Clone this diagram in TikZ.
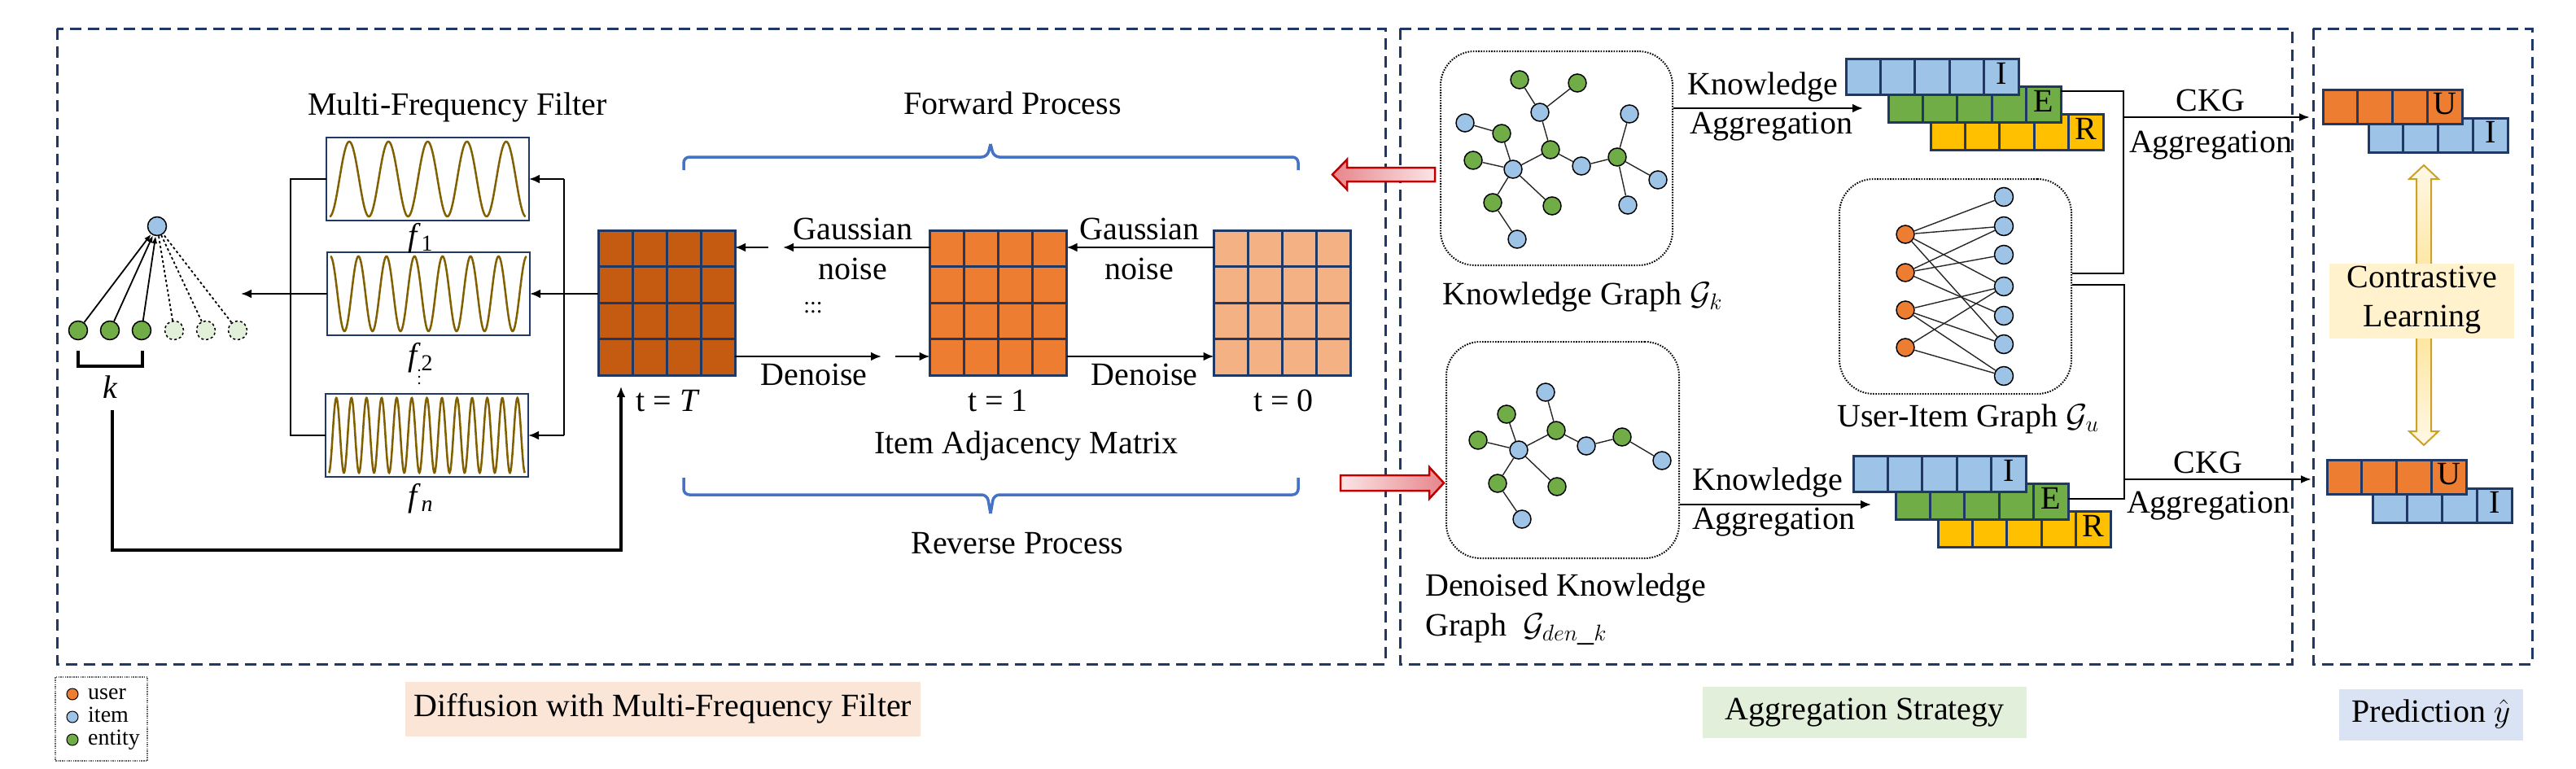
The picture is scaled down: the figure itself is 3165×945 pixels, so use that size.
\RequirePackage{fix-cm}
\documentclass[tikz,border=0pt]{standalone}
\usepackage{fontspec}
\setmainfont{Liberation Serif}
\usetikzlibrary{arrows.meta,calc}

\definecolor{navy}{HTML}{203864}
\definecolor{bluebr}{HTML}{4472C4}
\definecolor{itemblue}{HTML}{9DC3E6}
\definecolor{entgreen}{HTML}{70AD47}
\definecolor{entlight}{HTML}{E2F0D9}
\definecolor{userorange}{HTML}{ED7D31}
\definecolor{relyellow}{HTML}{FFC000}
\definecolor{matdark}{HTML}{C55A11}
\definecolor{matmid}{HTML}{ED7D31}
\definecolor{matlight}{HTML}{F4B183}
\definecolor{wavecol}{HTML}{806000}
\definecolor{redborder}{HTML}{C00000}
\definecolor{redtip}{HTML}{E6858B}
\definecolor{redtail}{HTML}{FBE5E6}
\definecolor{goldline}{HTML}{C9A227}
\definecolor{goldmid}{HTML}{FFE08C}
\definecolor{goldend}{HTML}{FFF8E6}
\definecolor{bgpink}{HTML}{FBE5D6}
\definecolor{bggreen}{HTML}{E2EFDA}
\definecolor{bgyellow}{HTML}{FFF2CC}
\definecolor{bgblue}{HTML}{DAE3F3}

\newcommand{\gridmat}[4]{%
  \node[matbox, fill=#4] (#1) at (#2,#3) {};
  \foreach \f in {0.25,0.5,0.75}{%
    \draw[gridline] ($(#1.north west)!\f!(#1.north east)$) -- ($(#1.south west)!\f!(#1.south east)$);
    \draw[gridline] ($(#1.north west)!\f!(#1.south west)$) -- ($(#1.north east)!\f!(#1.south east)$);
  }%
}
\newcommand{\vecrow}[7]{%
  \node[cellrow, fill=#5, minimum width=#4pt, minimum height=#7pt, anchor=north west] (#1) at (#2,#3) {};
  \foreach \f in {#6}{%
    \draw[gridline] ($(#1.north west)!\f!(#1.north east)$) -- ($(#1.south west)!\f!(#1.south east)$);
  }%
}

\begin{document}
\begin{tikzpicture}[x=1pt,y=-1pt,
  lbl/.style={inner sep=0pt, font=\fontsize{40}{46}\selectfont, text height=27pt, text depth=9pt},
  smalllbl/.style={inner sep=0pt, font=\fontsize{28}{32}\selectfont, text height=19pt, text depth=6pt},
  frame/.style={draw=navy, line width=3pt, dash pattern=on 14pt off 8pt},
  matbox/.style={rectangle, draw=navy, line width=3pt, minimum width=168pt, minimum height=178pt, inner sep=0pt, outer sep=0pt},
  gridline/.style={draw=navy, line width=3pt},
  cellrow/.style={rectangle, draw=navy, line width=3pt, inner sep=0pt, outer sep=0pt},
  filterbox/.style={rectangle, draw=navy, line width=2.5pt, minimum width=249pt, minimum height=102pt, inner sep=0pt, outer sep=0pt},
  wave/.style={draw=wavecol, line width=2.5pt},
  arr/.style={-{Latex[length=13pt,width=11pt]}, line width=2.5pt},
  conn/.style={line width=2.5pt},
  brace/.style={draw=bluebr, line width=3.5pt, rounded corners=7pt},
  gbox/.style={rectangle, draw=black, line width=2pt, dash pattern=on 1.6pt off 1.6pt, rounded corners=42pt, inner sep=0pt},
  nd/.style={circle, draw=black, line width=1.5pt, minimum size=22pt, inner sep=0pt},
  ent/.style={nd, fill=entgreen},
  itm/.style={nd, fill=itemblue},
  usr/.style={nd, fill=userorange},
  entd/.style={nd, fill=entlight, dashed},
  edge/.style={line width=1.4pt, draw=black!85},
  lg/.style={circle, draw=black, line width=1pt, minimum size=14pt, inner sep=0pt}
]
\useasboundingbox (0,0) rectangle (3165,945);

% ---------------- frames ----------------
\draw[frame] (70,35) rectangle (1702,816);
\draw[frame] (1720,35) rectangle (2816,816);
\draw[frame] (2842,35) rectangle (3111,816);

% ---------------- filters ----------------
\node[lbl] (mff) at (562,132) {Multi-Frequency Filter};
\node[filterbox] (F1) at (525.5,220) {};
\node[filterbox] (F2) at (526.5,361) {};
\node[filterbox] (Fn) at (524.5,535) {};
\draw[wave] plot[domain=0:1, samples=300] ({405+241*\x},{220+46*cos(1800*\x)});
\draw[wave] plot[domain=0:1, samples=300] ({406+241*\x},{361-46*cos(2520*\x)});
\draw[wave] plot[domain=0:1, samples=500] ({404+241*\x},{535+46*cos(4680*\x)});
\node[lbl] (lf1) at (517,293) {\textit{f}\textsubscript{1}};
\node[lbl] (lf2) at (517,440) {\textit{f}\textsubscript{2}};
\node[lbl] (lfn) at (517,613) {\textit{f}\textsubscript{\textit{n}}};
\foreach \yy in {455,463,471} \fill (515,\yy) circle (1.3pt);

\coordinate (Lt) at (357,220);
\coordinate (Lb) at (357,535);
\coordinate (Rt) at (693,220);
\coordinate (Rb) at (693,535);
\draw[conn] (F1.west) -- (Lt) -- (Lb) -- (Fn.west);
\draw[conn] (Rt) -- (Rb);
\draw[arr] (Rt) -- (F1.east);
\draw[arr] (Rb) -- (Fn.east);

% item / entities
\node[itm, minimum size=23pt] (it) at (193,278) {};
\node[ent, minimum size=23pt] (e1) at (96,406) {};
\node[ent, minimum size=23pt] (e2) at (135,406) {};
\node[ent, minimum size=23pt] (e3) at (174,406) {};
\node[entd, minimum size=23pt] (d1) at (214,406) {};
\node[entd, minimum size=23pt] (d2) at (253,406) {};
\node[entd, minimum size=23pt] (d3) at (292,406) {};
\foreach \n in {e1,e2,e3} \draw[-{Latex[length=9pt,width=7pt]}, line width=1.8pt] (\n) -- (it);
\foreach \n in {d1,d2,d3} \draw[dashed, line width=1.8pt] (\n) -- (it);
\coordinate (outL) at (296,361);
\draw[arr] (F2.west) -- (outL);
\draw[line width=4pt] (96,431) -- (96,450) -- (175,450) -- (175,431);
\node[lbl] (kl) at (136,480) {\textit{k}};

% ---------------- matrices ----------------
\gridmat{mT}{819}{372}{matdark}
\gridmat{m1}{1226.5}{372}{matmid}
\gridmat{m0}{1575.5}{372}{matlight}
\draw[arr] (mT.west |- F2.east) -- (F2.east);
\node[lbl] (ltT) at (821,496) {t = \textit{T}};
\node[lbl] (lt1) at (1226,496) {t = 1};
\node[lbl] (lt0) at (1577,496) {t = 0};
\node[lbl] (iam) at (1261,548) {Item Adjacency Matrix};

\coordinate (gA) at (962,304);
\coordinate (gB) at (944,304);
\coordinate (dA) at (1083,438);
\coordinate (dB) at (1100,438);
\draw[arr] (m1.west |- gA) -- (gA);
\draw[arr] (gB) -- (mT.east |- gB);
\draw[arr] (m0.west |- gA) -- (m1.east |- gA);
\draw[arr] (mT.east |- dA) -- (dA);
\draw[arr] (dB) -- (m1.west |- dB);
\draw[arr] (m1.east |- dA) -- (m0.west |- dA);
\node[lbl] (ga1) at (1048,285) {Gaussian};
\node[lbl] (no1) at (1048,334) {noise};
\node[lbl] (ga2) at (1400,285) {Gaussian};
\node[lbl] (no2) at (1400,334) {noise};
\node[smalllbl] (dts) at (999,378) {:::};
\node[lbl] (de1) at (1000,464) {Denoise};
\node[lbl] (de2) at (1406,464) {Denoise};

% feedback from k to t=T
\coordinate (kb) at (138,504);
\coordinate (kc) at (138,676);
\coordinate (kd) at (763,676);
\coordinate (ke) at (763,475);
\draw[-{Latex[length=13pt,width=11pt]}, line width=4pt] (kb) -- (kc) -- (kd) -- (ke);

% braces
\draw[brace] (840,209) -- (840,193) -- (1213,193) -- (1217,177);
\draw[brace] (1217,177) -- (1221,193) -- (1595,193) -- (1595,209);
\draw[brace] (840,587) -- (840,608) -- (1213,608) -- (1217,631);
\draw[brace] (1217,631) -- (1221,608) -- (1595,608) -- (1595,587);
\node[lbl] (fwd) at (1244,131) {Forward Process};
\node[lbl] (rev) at (1250,671) {Reverse Process};

% red block arrows
\shadedraw[left color=redtip, right color=redtail, draw=redborder, line width=2.5pt]
  (1637,214.5) -- (1655,196) -- (1655,206) -- (1763,206) -- (1763,223) -- (1655,223) -- (1655,233) -- cycle;
\shadedraw[left color=redtail, right color=redtip, draw=redborder, line width=2.5pt]
  (1647,584) -- (1756,584) -- (1756,574) -- (1774,593.5) -- (1756,613) -- (1756,603) -- (1647,603) -- cycle;

% ---------------- knowledge graph ----------------
\node[gbox, minimum width=285pt, minimum height=263pt] (kgbox) at (1912.5,194.5) {};
\node[ent] (a1) at (1867,98) {};
\node[ent] (a2) at (1938,102) {};
\node[itm] (b1) at (1892,138) {};
\node[itm] (b2) at (1800,151) {};
\node[ent] (a3) at (1845,164) {};
\node[itm] (b3) at (2002,140) {};
\node[ent] (a4) at (1905,184) {};
\node[ent] (a5) at (1810,197) {};
\node[itm] (b4) at (1859,208) {};
\node[itm] (b5) at (1943,204) {};
\node[ent] (a6) at (1987,193) {};
\node[itm] (b6) at (2037,221) {};
\node[ent] (a7) at (1834,249) {};
\node[ent] (a8) at (1907,253) {};
\node[itm] (b7) at (2000,252) {};
\node[itm] (b8) at (1864,294) {};
\foreach \u/\v in {a1/b1,a2/b1,b1/a4,b2/a3,a3/b4,a5/b4,b4/a4,a4/b5,b5/a6,a6/b3,a6/b6,a6/b7,b4/a7,b4/a8,a7/b8}
  \draw[edge] (\u) -- (\v);
\node[lbl, anchor=west] (kgl) at (1772,365) {Knowledge Graph $\mathcal{G}_{k}$};

% denoised graph
\node[gbox, minimum width=286pt, minimum height=266pt] (dkbox) at (1920,553) {};
\node[itm] (p1) at (1899,482) {};
\node[ent] (q1) at (1851,509) {};
\node[ent] (q2) at (1912,529) {};
\node[ent] (q3) at (1816,541) {};
\node[itm] (p2) at (1866,553) {};
\node[itm] (p3) at (1949,548) {};
\node[ent] (q4) at (1993,537) {};
\node[itm] (p4) at (2042,566) {};
\node[ent] (q5) at (1840,594) {};
\node[ent] (q6) at (1913,598) {};
\node[itm] (p5) at (1870,638) {};
\foreach \u/\v in {p1/q2,q1/p2,q3/p2,p2/q2,q2/p3,p3/q4,q4/p4,p2/q5,p2/q6,q5/p5}
  \draw[edge] (\u) -- (\v);
\node[lbl, anchor=west] (dkl1) at (1751,723) {Denoised Knowledge};
\node[lbl, anchor=west] (dkl2) at (1751,772) {Graph\ \ $\mathcal{G}_{den\_k}$};

% user-item graph
\node[gbox, minimum width=285pt, minimum height=264pt] (uibox) at (2402.5,352) {};
\node[usr] (u1) at (2341,288) {};
\node[usr] (u2) at (2341,335) {};
\node[usr] (u3) at (2341,381) {};
\node[usr] (u4) at (2341,427) {};
\node[itm, minimum size=23pt] (i1) at (2462,242) {};
\node[itm, minimum size=23pt] (i2) at (2462,278) {};
\node[itm, minimum size=23pt] (i3) at (2462,313) {};
\node[itm, minimum size=23pt] (i4) at (2462,352) {};
\node[itm, minimum size=23pt] (i5) at (2462,388) {};
\node[itm, minimum size=23pt] (i6) at (2462,423) {};
\node[itm, minimum size=23pt] (i7) at (2462,462) {};
\foreach \u/\v in {u1/i1,u1/i2,u1/i4,u1/i6,u2/i2,u2/i3,u2/i5,u3/i4,u3/i6,u3/i7,u4/i4,u4/i7}
  \draw[edge] (\u) -- (\v);
\node[lbl] (uil) at (2418,515) {User-Item Graph $\mathcal{G}_{u}$};

% top aggregation
\node[lbl] (kn1) at (2166,107) {Knowledge};
\node[lbl] (ag1) at (2176,155) {Aggregation};
\coordinate (ka1) at (2289,133);
\draw[arr] (kgbox.east |- ka1) -- (ka1);
\vecrow{rR1}{2372}{140}{212}{relyellow}{0.2,0.4,0.6,0.8}{44}
\vecrow{rE1}{2320}{106}{212}{entgreen}{0.2,0.4,0.6,0.8}{44}
\vecrow{rI1}{2268}{72}{212}{itemblue}{0.2,0.4,0.6,0.8}{44}
\node[lbl] (tI1) at ($(rI1.east)+(-21,0)$) {I};
\node[lbl] (tE1) at ($(rE1.east)+(-21,0)$) {E};
\node[lbl] (tR1) at ($(rR1.east)+(-21,0)$) {R};

% bottom aggregation
\node[lbl] (kn2) at (2172,593) {Knowledge};
\node[lbl] (ag2) at (2179,641) {Aggregation};
\coordinate (ka2) at (2299,620);
\draw[arr] (dkbox.east |- ka2) -- (ka2);
\vecrow{rR2}{2381}{628}{212}{relyellow}{0.2,0.4,0.6,0.8}{44}
\vecrow{rE2}{2329}{594}{212}{entgreen}{0.2,0.4,0.6,0.8}{44}
\vecrow{rI2}{2277}{560}{212}{itemblue}{0.2,0.4,0.6,0.8}{44}
\node[lbl] (tI2) at ($(rI2.east)+(-21,0)$) {I};
\node[lbl] (tE2) at ($(rE2.east)+(-21,0)$) {E};
\node[lbl] (tR2) at ($(rR2.east)+(-21,0)$) {R};

% CKG connectors
\coordinate (c1a) at (2609,112);
\coordinate (c1b) at (2609,336);
\coordinate (c1m) at (2609,144);
\coordinate (c1t) at (2838,144);
\draw[conn] (rE1.east |- c1a) -- (c1a) -- (c1b) -- (uibox.east |- c1b);
\draw[-{Latex[length=13pt,width=10pt]}, line width=2.5pt] (c1m) -- (c1t);
\node[lbl] (ck1) at (2716,127) {CKG};
\node[lbl] (ca1) at (2716,178) {Aggregation};

\coordinate (c2a) at (2610,350);
\coordinate (c2b) at (2610,613);
\coordinate (c2m) at (2610,589);
\coordinate (c2t) at (2840,589);
\draw[conn] (uibox.east |- c2a) -- (c2a) -- (c2b) -- (rE2.east |- c2b);
\draw[-{Latex[length=13pt,width=10pt]}, line width=2.5pt] (c2m) -- (c2t);
\node[lbl] (ck2) at (2713,572) {CKG};
\node[lbl] (ca2) at (2713,621) {Aggregation};

% ---------------- prediction ----------------
\vecrow{pI1}{2910}{145}{171}{itemblue}{0.25,0.5,0.75}{42}
\vecrow{pU1}{2854}{110}{171}{userorange}{0.25,0.5,0.75}{42}
\node[lbl] (tU1) at ($(pU1.east)+(-21,0)$) {U};
\node[lbl] (tIp1) at ($(pI1.east)+(-21,0)$) {I};
\vecrow{pI2}{2915}{600}{171}{itemblue}{0.25,0.5,0.75}{42}
\vecrow{pU2}{2859}{565}{171}{userorange}{0.25,0.5,0.75}{42}
\node[lbl] (tU2) at ($(pU2.east)+(-21,0)$) {U};
\node[lbl] (tIp2) at ($(pI2.east)+(-21,0)$) {I};

\shadedraw[top color=goldend, bottom color=goldend, middle color=goldmid, draw=goldline, line width=2pt]
  (2978,203) -- (2996,220) -- (2987,220) -- (2987,530) -- (2996,530) -- (2978,547)
  -- (2960,530) -- (2969,530) -- (2969,220) -- (2960,220) -- cycle;
\node[fill=bgyellow, minimum width=227pt, minimum height=92pt, inner sep=0pt] (clbg) at (2975.5,370) {};
\node[lbl] (cl1) at (2976,344) {Contrastive};
\node[lbl] (cl2) at (2976,392) {Learning};

% ---------------- bottom captions ----------------
\node[fill=bgpink, minimum width=633pt, minimum height=67pt, inner sep=0pt] (dfbg) at (814.5,871.5) {};
\node[lbl] (dft) at (814.5,871.5) {Diffusion with Multi-Frequency Filter};
\node[fill=bggreen, minimum width=398pt, minimum height=63pt, inner sep=0pt] (agbg) at (2291,875.5) {};
\node[lbl] (agt) at (2291,875.5) {Aggregation Strategy};
\node[fill=bgblue, minimum width=226pt, minimum height=63pt, inner sep=0pt] (prbg) at (2987,878.5) {};
\node[lbl] (prt) at (2987,878.5) {Prediction $\hat{y}$};

% legend
\node[draw=black!60, line width=1.2pt, dash pattern=on 1.5pt off 1.2pt, minimum width=113pt, minimum height=103pt, inner sep=0pt] (lgbox) at (124.5,883.5) {};
\node[lg, fill=userorange] (lgu) at (89,853) {};
\node[lg, fill=itemblue] (lgi) at (89,881) {};
\node[lg, fill=entgreen] (lge) at (89,909) {};
\node[smalllbl, anchor=west] (lgut) at (108,853) {user};
\node[smalllbl, anchor=west] (lgit) at (108,881) {item};
\node[smalllbl, anchor=west] (lget) at (108,909) {entity};
\end{tikzpicture}
\end{document}
